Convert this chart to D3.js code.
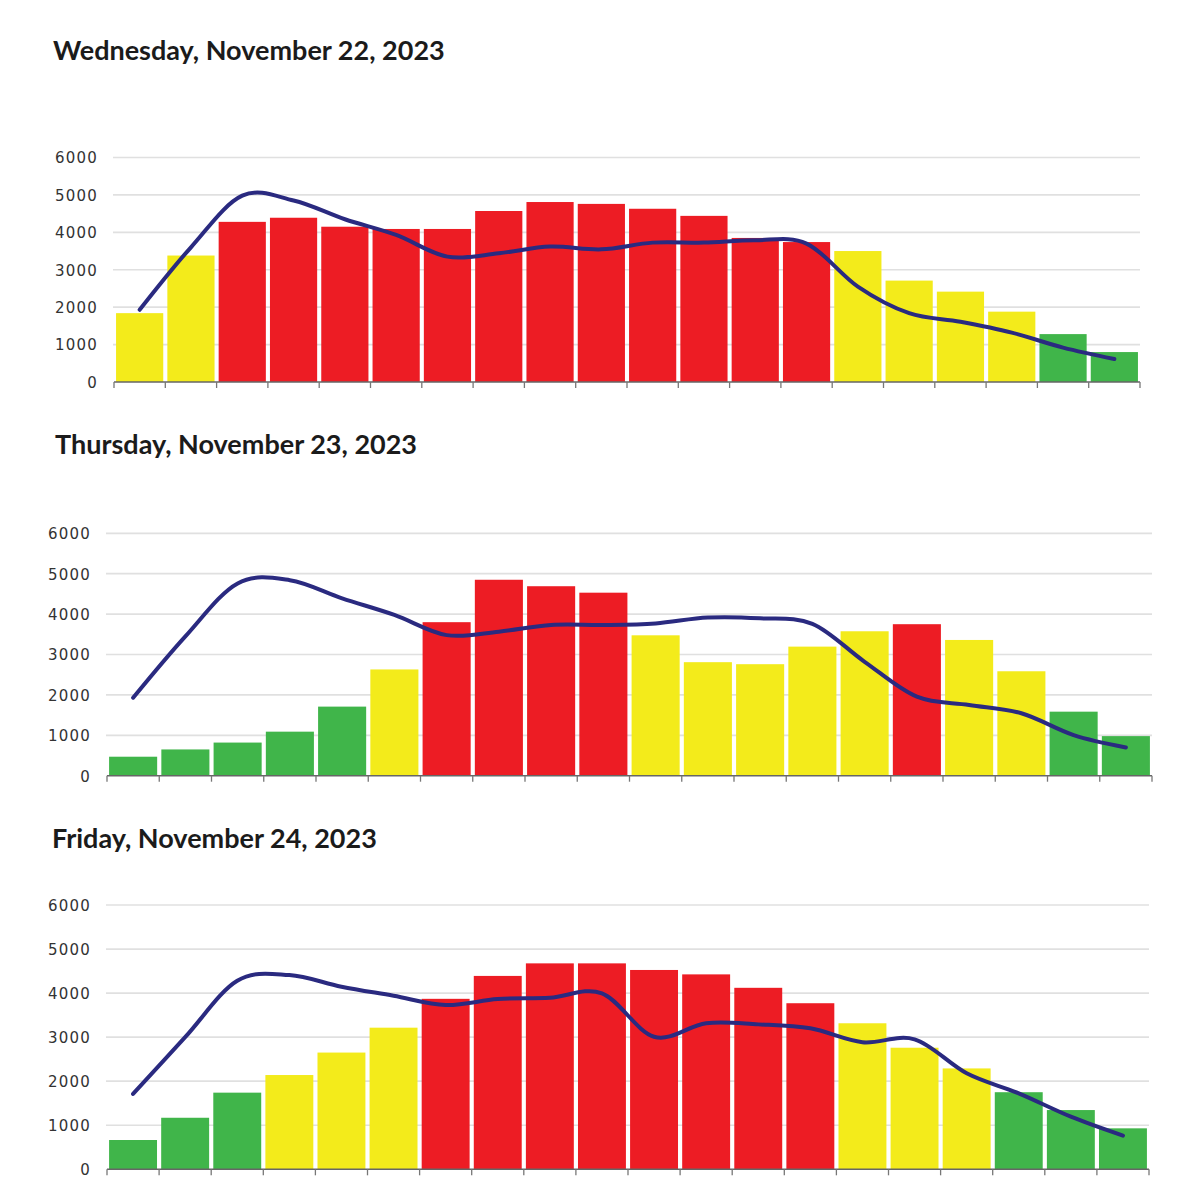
<!DOCTYPE html>
<html>
<head>
<meta charset="utf-8">
<script src="https://cdn.jsdelivr.net/npm/d3@7"></script>
<style>
  html, body { margin: 0; padding: 0; background: #fff; }
  svg { display: block; }
</style>
</head>
<body>
<svg id="chart" width="1200" height="1200"></svg>
<script>
// ---- data ----
const hours = ["1","2","3","4","5","6","7","8","9","10","11","12","13","14","15","16","17","18","19","20"];
const yTicks = [0, 1000, 2000, 3000, 4000, 5000, 6000];

const titles = ["Wednesday, November 22, 2023", "Thursday, November 23, 2023", "Friday, November 24, 2023"];

const wedBars = [1840, 3380, 4280, 4390, 4150, 4090, 4090, 4570, 4810, 4760, 4630, 4440, 3850, 3740, 3500, 2710, 2415, 1880, 1280, 800];
const wedLevels = ["Y","Y","R","R","R","R","R","R","R","R","R","R","R","R","Y","Y","Y","Y","G","G"];
const wedLine = [1930, 3600, 4980, 4850, 4350, 3930, 3350, 3440, 3620, 3545, 3725, 3725, 3790, 3700, 2550, 1840, 1610, 1320, 920, 615];

const thuBars = [470, 650, 820, 1090, 1710, 2630, 3800, 4850, 4690, 4530, 3475, 2810, 2760, 3195, 3575, 3750, 3360, 2585, 1585, 980];
const thuLevels = ["G","G","G","G","G","Y","R","R","R","R","Y","Y","Y","Y","Y","R","Y","Y","G","G"];
const thuLine = [1930, 3450, 4760, 4840, 4390, 3980, 3480, 3565, 3730, 3730, 3770, 3915, 3895, 3760, 2820, 1955, 1750, 1545, 1005, 700];

const friBars = [665, 1170, 1740, 2140, 2650, 3215, 3870, 4390, 4675, 4675, 4525, 4425, 4120, 3770, 3315, 2760, 2290, 1750, 1345, 930];
const friLevels = ["G","G","G","Y","Y","Y","R","R","R","R","R","R","R","R","Y","Y","Y","G","G","G"];
const friLine = [1710, 3000, 4280, 4410, 4145, 3940, 3730, 3865, 3895, 3995, 3010, 3315, 3290, 3200, 2885, 2950, 2180, 1725, 1195, 765];

const levelColors = { G: "#40b54a", Y: "#f3eb1b", R: "#ed1c24" };

// ---- layout (positions only) ----
const panels = [
  { title: titles[0], bars: wedBars, levels: wedLevels, line: wedLine, x0: 114, x1: 1140, yTop: 157.5, yBase: 382, titleX: 53, titleY: 60 },
  { title: titles[1], bars: thuBars, levels: thuLevels, line: thuLine, x0: 107, x1: 1152, yTop: 533.3, yBase: 775.7, titleX: 55, titleY: 454 },
  { title: titles[2], bars: friBars, levels: friLevels, line: friLine, x0: 107, x1: 1149, yTop: 905, yBase: 1169.3, titleX: 52, titleY: 848 }
];

const svg = d3.select("#chart");

panels.forEach(p => {
  const g = svg.append("g");
  const x = d3.scaleBand().domain(hours).range([p.x0, p.x1]).paddingInner(0.08).paddingOuter(0.04);
  const xb = d3.scaleBand().domain(hours).range([p.x0, p.x1]);
  const y = d3.scaleLinear().domain([0, 6000]).range([p.yBase, p.yTop]);

  // title
  g.append("text")
    .attr("x", p.titleX).attr("y", p.titleY)
    .attr("font-family", "Lato, 'Open Sans', sans-serif")
    .attr("font-weight", 700)
    .attr("font-size", 27)
    .attr("fill", "#1b1b1b")
    .text(p.title);

  // gridlines
  g.append("g").selectAll("line").data(yTicks.filter(d => d > 0)).join("line")
    .attr("x1", p.x0 - 1).attr("x2", p.x1)
    .attr("y1", d => y(d)).attr("y2", d => y(d))
    .attr("stroke", "#e0e0e0").attr("stroke-width", 1.7);

  // y axis labels
  const yAxis = d3.axisLeft(y).tickValues(yTicks).tickSize(0).tickPadding(16).tickFormat(d3.format("d"));
  const ya = g.append("g").attr("transform", `translate(${p.x0},0)`).call(yAxis);
  ya.select(".domain").remove();
  ya.selectAll("text")
    .attr("font-family", "'DejaVu Sans', sans-serif")
    .attr("font-size", 15)
    .attr("letter-spacing", 1.2)
    .attr("fill", "#333")
    .attr("dy", "0.36em");

  // bars
  g.append("g").selectAll("rect").data(p.bars).join("rect")
    .attr("x", (d, i) => x(hours[i]))
    .attr("width", x.bandwidth())
    .attr("y", d => y(d))
    .attr("height", d => y(0) - y(d))
    .attr("fill", (d, i) => levelColors[p.levels[i]]);

  // x axis baseline with ticks at band boundaries
  const bounds = hours.map(h => xb(h)).concat([p.x1]);
  g.append("line")
    .attr("x1", p.x0).attr("x2", p.x1)
    .attr("y1", p.yBase).attr("y2", p.yBase)
    .attr("stroke", "#666").attr("stroke-width", 1.6);
  g.append("g").selectAll("line").data(bounds).join("line")
    .attr("x1", d => d).attr("x2", d => d)
    .attr("y1", p.yBase).attr("y2", p.yBase + 6)
    .attr("stroke", "#777").attr("stroke-width", 1.3);

  // smoothed line
  const lineGen = d3.line()
    .x((d, i) => xb(hours[i]) + xb.bandwidth() / 2)
    .y(d => y(d))
    .curve(d3.curveCardinal.tension(0));
  g.append("path")
    .datum(p.line)
    .attr("d", lineGen)
    .attr("fill", "none")
    .attr("stroke", "#2a2a80")
    .attr("stroke-width", 4)
    .attr("stroke-linecap", "round")
    .attr("stroke-linejoin", "round");
});
</script>
</body>
</html>
